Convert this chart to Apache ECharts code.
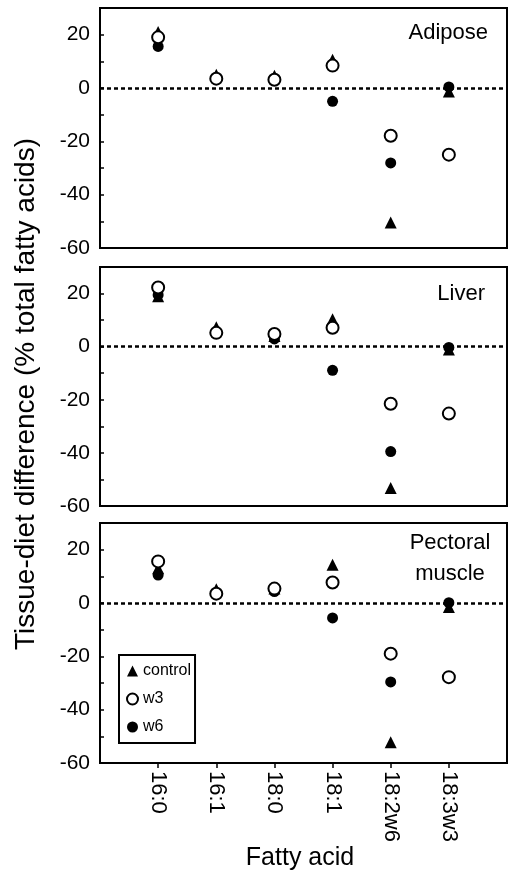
<!DOCTYPE html>
<html>
<head>
<meta charset="utf-8">
<script src="https://cdn.jsdelivr.net/npm/echarts@6/dist/echarts.min.js"></script>
<style>
html, body { margin: 0; padding: 0; background: #fff; }
#chart { width: 510px; height: 875px; }
</style>
</head>
<body>
<div id="chart"></div>
<script>
var categories = ['16:0', '16:1', '18:0', '18:1', '18:2w6', '18:3w3'];

// adipose
var adiposeControl = [21, 5, 4.6, 10.6, -50.4, -1.3];
var adiposeW3 = [19, 3.5, 3.1, 8.4, -17.9, -25];
var adiposeW6 = [15.6, 3.5, 3, -5, -28.1, 0.4];
// liver
var liverControl = [19, 7.3, 4, 10.3, -53.2, -1.1];
var liverW3 = [22.3, 5.2, 4.8, 7.1, -21.5, -25.2];
var liverW6 = [19.5, 5, 2.9, -8.9, -39.5, -0.3];
// pectoral muscle
var pectoralControl = [13, 5.2, 5.4, 14.3, -52.2, -1.5];
var pectoralW3 = [15.6, 3.5, 5.4, 7.7, -19, -27.8];
var pectoralW6 = [10.5, 3.5, 4.3, -5.6, -29.6, 0.1];

var yTickLabels = [-60, -40, -20, 0, 20];
var yTickMarks = [-50, -40, -30, -20, -10, 0, 10, 20];
var panelNames = ['Adipose', 'Liver', 'Pectoral\nmuscle'];

var font = '"Liberation Sans", Arial, Helvetica, sans-serif';
var chart = echarts.init(document.getElementById('chart'));

var xPositions = categories.map(function (c, i) { return i + 1; });

function toPoints(values) {
    return values.map(function (v, i) {
        return [i + 1, v];
    });
}

var grids = [
    { left: 100, right: 3, top: 8, height: 240 },
    { left: 100, right: 3, top: 267, height: 239 },
    { left: 100, right: 3, top: 523, height: 240 }
];
grids.forEach(function (g) {
    g.show = true;
    g.borderColor = '#000';
    g.borderWidth = 2;
});

var xAxes = [];
var yAxes = [];
for (var i = 0; i < 3; i++) {
    var bottom = (i == 2);
    xAxes.push({
        type: 'value',
        gridIndex: i,
        min: 0,
        max: 7,
        splitLine: { show: false },
        axisLine: { show: false, onZero: false },
        axisTick: bottom ? {
            show: true,
            inside: false,
            length: 5,
            customValues: xPositions,
            lineStyle: { color: '#000', width: 1.5 }
        } : { show: false },
        axisLabel: bottom ? {
            show: true,
            customValues: xPositions,
            rotate: -90,
            margin: 8,
            color: '#000',
            fontSize: 22,
            fontFamily: font,
            formatter: function (v) { return categories[v - 1]; }
        } : { show: false }
    });
    yAxes.push({
        type: 'value',
        gridIndex: i,
        min: -60,
        max: 30,
        splitLine: { show: false },
        axisLine: { show: false, onZero: false },
        axisTick: {
            show: true,
            inside: true,
            length: 4,
            customValues: yTickMarks,
            lineStyle: { color: '#000', width: 1.5 }
        },
        axisLabel: {
            customValues: yTickLabels,
            margin: 10,
            color: '#000',
            fontSize: 21,
            fontFamily: font
        }
    });
}

var panels = [
    [adiposeControl, adiposeW3, adiposeW6],
    [liverControl, liverW3, liverW6],
    [pectoralControl, pectoralW3, pectoralW6]
];

var series = [];
panels.forEach(function (p, idx) {
    series.push({
        name: 'w6',
        type: 'scatter',
        xAxisIndex: idx,
        yAxisIndex: idx,
        symbol: 'circle',
        symbolSize: 11,
        itemStyle: { color: '#000', opacity: 1 },
        silent: true,
        data: toPoints(p[2]),
        markLine: {
            silent: true,
            symbol: ['none', 'none'],
            label: { show: false },
            lineStyle: { color: '#000', type: [4, 3], width: 2.5, opacity: 1 },
            data: [{ yAxis: 0 }]
        }
    });
    series.push({
        name: 'control',
        type: 'scatter',
        xAxisIndex: idx,
        yAxisIndex: idx,
        symbol: 'triangle',
        symbolSize: 12,
        itemStyle: { color: '#000', opacity: 1 },
        silent: true,
        data: toPoints(p[0])
    });
    series.push({
        name: 'w3',
        type: 'scatter',
        xAxisIndex: idx,
        yAxisIndex: idx,
        symbol: 'circle',
        symbolSize: 12,
        itemStyle: { color: '#fff', borderColor: '#000', borderWidth: 2, opacity: 1 },
        silent: true,
        data: toPoints(p[1])
    });
});

var option = {
    animation: false,
    backgroundColor: '#fff',
    grid: grids,
    xAxis: xAxes,
    yAxis: yAxes,
    legend: {
        data: ['control', 'w3', 'w6'],
        orient: 'vertical',
        left: 119,
        top: 655,
        borderColor: '#000',
        borderWidth: 2,
        padding: [8, 4, 8, 7],
        itemGap: 12,
        itemWidth: 11,
        itemHeight: 11,
        selectedMode: false,
        textStyle: { fontSize: 16, color: '#000', fontFamily: font }
    },
    graphic: [
        {
            type: 'text', x: 488, y: 33,
            style: { text: panelNames[0], font: '22px ' + font, fill: '#000', textAlign: 'right', textVerticalAlign: 'middle' }
        },
        {
            type: 'text', x: 485, y: 294,
            style: { text: panelNames[1], font: '22px ' + font, fill: '#000', textAlign: 'right', textVerticalAlign: 'middle' }
        },
        {
            type: 'text', x: 450, y: 558,
            style: { text: panelNames[2], font: '22px ' + font, lineHeight: 31, fill: '#000', textAlign: 'center', textVerticalAlign: 'middle' }
        },
        {
            type: 'text', x: 26, y: 394, rotation: Math.PI / 2,
            style: { text: 'Tissue-diet difference (% total fatty acids)', font: '28px ' + font, fill: '#000', textAlign: 'center', textVerticalAlign: 'middle' }
        },
        {
            type: 'text', x: 300, y: 858,
            style: { text: 'Fatty acid', font: '25px ' + font, fill: '#000', textAlign: 'center', textVerticalAlign: 'middle' }
        }
    ],
    series: series
};

chart.setOption(option);
</script>
</body>
</html>
